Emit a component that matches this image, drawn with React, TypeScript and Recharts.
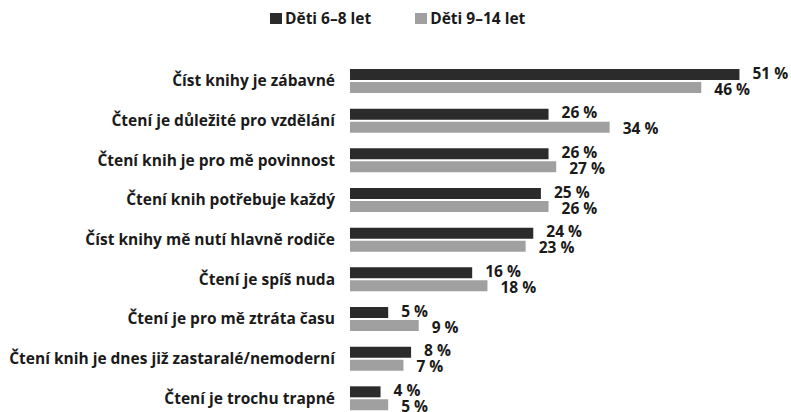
import { BarChart, Bar, XAxis, YAxis, LabelList } from 'recharts';

const categories = [
  'Číst knihy je zábavné',
  'Čtení je důležité pro vzdělání',
  'Čtení knih je pro mě povinnost',
  'Čtení knih potřebuje každý',
  'Číst knihy mě nutí hlavně rodiče',
  'Čtení je spíš nuda',
  'Čtení je pro mě ztráta času',
  'Čtení knih je dnes již zastaralé/nemoderní',
  'Čtení je trochu trapné',
];

const seriesNames = ['Děti 6–8 let', 'Děti 9–14 let'];
const younger = [51, 26, 26, 25, 24, 16, 5, 8, 4];
const older = [46, 34, 27, 26, 23, 18, 9, 7, 5];

const DARK = '#2b2b2b';
const GREY = '#a0a0a0';
const TEXT = '#1a1a1a';
const FONT = '"Open Sans", sans-serif';

const data = categories.map((name, i) => ({ name, a: younger[i], b: older[i] }));

const tickStyle = { fontSize: 15.5, fontWeight: 700, fill: TEXT, fontFamily: FONT };

// value label to the right of a bar, nudged up/down a little like the original
const valueLabel = (dy: number) => (props: any) => {
  const { x, y, width, height, value } = props;
  return (
    <text
      x={Number(x) + Number(width) + 13}
      y={Number(y) + Number(height) / 2 + dy}
      dominantBaseline="central"
      fontSize={15.5}
      fontWeight={700}
      fill={TEXT}
      fontFamily={FONT}
    >
      {`${value} %`}
    </text>
  );
};

export default function App() {
  return (
    <div
      style={{
        position: 'absolute',
        left: 0,
        top: 0,
        width: 791,
        height: 412,
        overflow: 'hidden',
        background: '#fff',
        fontFamily: FONT,
      }}
    >
      {/* legend */}
      <div
        style={{
          position: 'absolute',
          top: 7,
          left: 270,
          display: 'flex',
          alignItems: 'center',
          fontSize: 15.5,
          fontWeight: 700,
          color: TEXT,
          lineHeight: '22px',
        }}
      >
        {seriesNames.map((s, i) => (
          <div key={s} style={{ display: 'flex', alignItems: 'center', marginRight: i === 0 ? 44 : 0 }}>
            <span style={{ width: 12, height: 11, background: i === 0 ? DARK : GREY, marginRight: 3 }} />
            <span>{s}</span>
          </div>
        ))}
      </div>
      <BarChart
        layout="vertical"
        width={791}
        height={420}
        data={data}
        margin={{ top: 61, right: 21, bottom: 2, left: 0 }}
        barSize={11}
        barGap={2}
      >
        <XAxis type="number" domain={[0, 55]} hide />
        <YAxis
          type="category"
          dataKey="name"
          width={350}
          tickLine={false}
          axisLine={false}
          tickSize={0}
          tickMargin={15}
          tick={tickStyle}
          interval={0}
        />
        <Bar dataKey="a" fill={DARK} isAnimationActive={false}>
          <LabelList dataKey="a" content={valueLabel(-2)} />
        </Bar>
        <Bar dataKey="b" fill={GREY} isAnimationActive={false}>
          <LabelList dataKey="b" content={valueLabel(1)} />
        </Bar>
      </BarChart>
    </div>
  );
}
